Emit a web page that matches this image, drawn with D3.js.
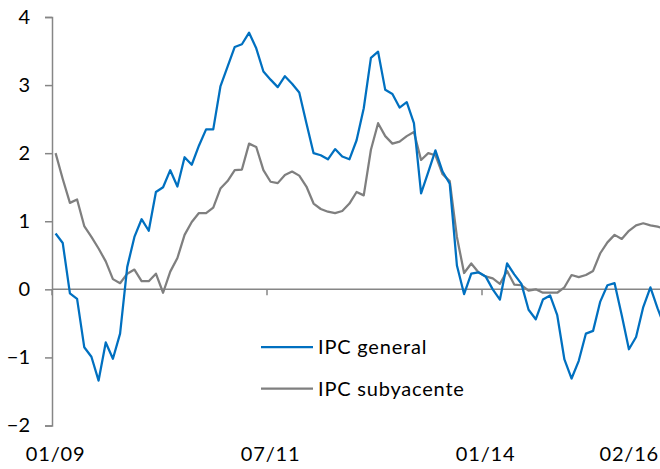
<!DOCTYPE html>
<html>
<head>
<meta charset="utf-8">
<script src="https://cdn.jsdelivr.net/npm/d3@7"></script>
<style>
  body { margin: 0; background: #fff; }
  text { font-family: Lato, "Open Sans", sans-serif; fill: #000; }
</style>
</head>
<body>
<svg id="chart" width="660" height="469"></svg>
<script>
// monthly, 01/09 .. 02/16
var months = d3.timeMonth.range(new Date(2009, 0, 1), new Date(2016, 2, 1));

var ipcGeneral = [
  0.82, 0.68, -0.06, -0.14, -0.85, -0.99, -1.34, -0.78, -1.02, -0.65,
  0.33, 0.77, 1.03, 0.86, 1.43, 1.50, 1.75, 1.51, 1.94, 1.83,
  2.11, 2.35, 2.35, 2.98, 3.27, 3.56, 3.60, 3.77, 3.54, 3.20,
  3.08, 2.97, 3.13, 3.02, 2.89, 2.44, 2.00, 1.97, 1.91, 2.06,
  1.95, 1.91, 2.19, 2.66, 3.40, 3.49, 2.93, 2.87, 2.67, 2.75,
  2.44, 1.41, 1.72, 2.04, 1.73, 1.55, 0.35, -0.07, 0.23, 0.25,
  0.19, 0.00, -0.15, 0.38, 0.22, 0.08, -0.30, -0.44, -0.15, -0.09,
  -0.38, -1.03, -1.31, -1.05, -0.65, -0.61, -0.18, 0.06, 0.09, -0.38,
  -0.88, -0.70, -0.26, 0.03, -0.28, -0.55
];

var ipcSubyacente = [
  2.00, 1.62, 1.27, 1.32, 0.93, 0.77, 0.60, 0.41, 0.15, 0.09,
  0.23, 0.29, 0.12, 0.12, 0.23, -0.05, 0.26, 0.46, 0.80, 0.99,
  1.12, 1.12, 1.20, 1.48, 1.59, 1.75, 1.76, 2.14, 2.09, 1.75,
  1.58, 1.56, 1.68, 1.73, 1.67, 1.51, 1.26, 1.18, 1.14, 1.12,
  1.15, 1.26, 1.43, 1.38, 2.05, 2.44, 2.25, 2.14, 2.17, 2.25,
  2.31, 1.90, 2.00, 1.97, 1.69, 1.59, 0.77, 0.24, 0.38, 0.25,
  0.19, 0.16, 0.08, 0.27, 0.07, 0.06, -0.02, 0.00, -0.05, -0.05,
  -0.05, 0.03, 0.21, 0.18, 0.21, 0.27, 0.53, 0.69, 0.80, 0.74,
  0.86, 0.94, 0.97, 0.94, 0.92, 0.89
];

var yTicks = [-2, -1, 0, 1, 2, 3, 4];
var xLabels = ["01/09", "07/11", "01/14", "02/16"];
var xLabelIdx = [0, 30, 60, 85];

var series = [
  { name: "IPC general", values: ipcGeneral, color: "#0070C0" },
  { name: "IPC subyacente", values: ipcSubyacente, color: "#7F7F7F" }
];

(function() {
  var svg = d3.select("#chart"),
    W = +svg.attr("width"),
    H = +svg.attr("height");

  var plotLeft = 52, plotTop = 17, plotBottom = 425.5;
  var step = 215 / 30;

  var x = d3.scaleBand()
    .domain(d3.range(months.length))
    .range([plotLeft, plotLeft + step * months.length])
    .padding(0);

  var y = d3.scaleLinear()
    .domain([-2, 4])
    .range([plotBottom, plotTop]);

  var axisColor = "#868686";

  // y axis
  var yAxis = svg.append("g")
    .attr("transform", "translate(" + plotLeft + ",0)")
    .call(d3.axisLeft(y).tickValues(yTicks).tickSize(7).tickPadding(15).tickFormat(d3.format("d")));
  yAxis.select(".domain").attr("stroke", axisColor).attr("stroke-width", 1.5);
  yAxis.selectAll(".tick line").attr("stroke", axisColor).attr("stroke-width", 1.5);
  yAxis.selectAll(".tick text")
    .style("font-size", "20px")
    .style("font-family", "Lato, 'Open Sans', sans-serif")
    .attr("fill", "#000");

  // x axis on the zero line
  var y0 = y(0);
  svg.append("line")
    .attr("x1", plotLeft).attr("x2", W)
    .attr("y1", y0).attr("y2", y0)
    .attr("stroke", axisColor).attr("stroke-width", 1.5);

  var tickIdx = d3.range(0, months.length, 30);
  svg.selectAll(".xtick")
    .data(tickIdx)
    .enter().append("line")
    .attr("class", "xtick")
    .attr("x1", function(d) { return x(d); })
    .attr("x2", function(d) { return x(d); })
    .attr("y1", y0).attr("y2", y0 + 6)
    .attr("stroke", axisColor).attr("stroke-width", 1.5);

  function labelX(i) { return x(xLabelIdx[i]) + x.bandwidth() / 2; }

  svg.selectAll(".xlabel")
    .data(xLabels)
    .enter().append("text")
    .attr("class", "xlabel")
    .attr("x", function(d, i) { return labelX(i) > W - 30 ? W - 1 : labelX(i); })
    .attr("y", 461)
    .attr("text-anchor", function(d, i) { return labelX(i) > W - 30 ? "end" : "middle"; })
    .style("font-size", "20px")
    .style("letter-spacing", "0.8px")
    .text(function(d) { return d; });

  // lines
  var line = d3.line()
    .x(function(d, i) { return x(i) + x.bandwidth() / 2; })
    .y(function(d) { return y(d); });

  svg.selectAll(".series")
    .data(series.slice().reverse())
    .enter().append("path")
    .attr("class", "series")
    .attr("d", function(d) { return line(d.values); })
    .attr("fill", "none")
    .attr("stroke", function(d) { return d.color; })
    .attr("stroke-width", 2.25)
    .attr("stroke-linejoin", "round");

  // legend
  var legend = svg.append("g");
  series.forEach(function(s, i) {
    var ly = 347 + i * 41.5;
    legend.append("line")
      .attr("x1", 261).attr("x2", 313)
      .attr("y1", ly).attr("y2", ly)
      .attr("stroke", s.color).attr("stroke-width", 2.25);
    legend.append("text")
      .attr("x", 318)
      .attr("y", ly)
      .attr("dy", "0.35em")
      .style("font-size", "20px")
      .style("letter-spacing", "0.8px")
      .text(s.name);
  });
})();
</script>
</body>
</html>
